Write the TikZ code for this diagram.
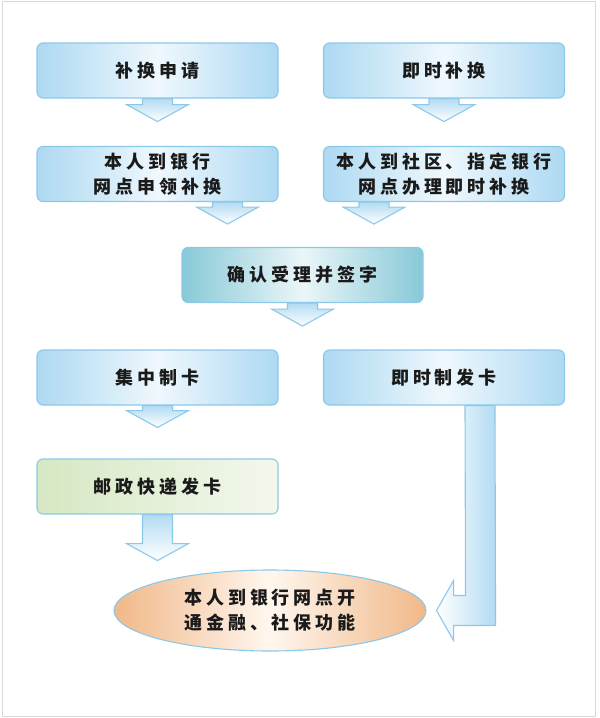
\documentclass[tikz,border=0pt]{standalone}
\usepackage{fontspec}
\newfontfamily\cjk[LetterSpace=22]{Noto Sans CJK SC}
\usetikzlibrary{calc,shapes.geometric}
\definecolor{edgeblue}{HTML}{8CC8EA}
\definecolor{boxblue}{HTML}{ADD9F2}
\definecolor{boxlight}{HTML}{EFF8FD}
\definecolor{boxteal}{HTML}{88C9D7}
\definecolor{tealight}{HTML}{EAF6F8}
\definecolor{boxgreen}{HTML}{D6E8C3}
\definecolor{greenlight}{HTML}{F3F8EE}
\definecolor{peach}{HTML}{F1B888}
\definecolor{peachlight}{HTML}{FFF7EF}
\definecolor{arrowblue}{HTML}{B3DBF3}
\definecolor{framegrey}{HTML}{D9D9D9}
\definecolor{textblack}{HTML}{1A1A1A}
\begin{document}
\begin{tikzpicture}[x=1pt,y=-1pt,
  font=\cjk\bfseries\fontsize{18}{25}\selectfont,
  box/.style={rectangle,rounded corners=6pt,draw=edgeblue,line width=1.1pt,
    minimum width=241pt,minimum height=55pt,inner sep=0pt,align=center,text=textblack},
  blue box/.style={box,left color=boxblue,right color=boxblue,middle color=boxlight},
  teal box/.style={box,left color=boxteal,right color=boxteal,middle color=tealight},
  green box/.style={box,left color=boxgreen,right color=greenlight},
  flow arrow/.style={draw=edgeblue,line width=1.1pt,top color=arrowblue,bottom color=white},
  side arrow/.style={draw=edgeblue,line width=1.1pt,left color=white,right color=arrowblue}]

  \useasboundingbox (0,0) rectangle (600,718);
  \draw[framegrey,line width=1pt] (2,1) rectangle (595,716);

  \node[blue box] (l1) at (157.5,70.5) {补换申请};
  \node[blue box] (r1) at (444,70.5) {即时补换};
  \node[blue box] (l2) at (157.5,174) {本人到银行\\网点申领补换};
  \node[blue box] (r2) at (444,174) {本人到社区、指定银行\\网点办理即时补换};
  \node[teal box] (c) at (302.5,275) {确认受理并签字};
  \node[blue box] (l3) at (157.5,377.5) {集中制卡};
  \node[blue box] (r3) at (444,377.5) {即时制发卡};
  \node[green box] (l4) at (157.5,486.5) {邮政快递发卡};
  \node[ellipse,draw=edgeblue,line width=1.1pt,minimum width=312pt,minimum height=81pt,
    inner sep=0pt,align=center,text=textblack,
    left color=peach,right color=peach,middle color=peachlight] (ell) at (270,610.5)
    {本人到银行网点开\\通金融、社保功能};

  \foreach \n/\s/\l in {l1/0/6,r1/0/6,l2/70/5,r2/-70/5,c/0/6,l3/0/5,l4/0/29}
    \draw[flow arrow] ($(\n.south)+(\s-15,0)$) -- ++(0,\l) -- ++(-16,0) -- ++(31,17)
      -- ++(31,-17) -- ++(-16,0) -- ++(0,-\l) -- cycle;

  \draw[side arrow] ($(r3.south)+(21,0)$) -- ++(30,0) -- ($(ell.east)+(69,15)$)
    -- ($(ell.east)+(27,15)$) -- ++(0,15) -- ($(ell.east)+(10,0)$) -- ++(17,-30)
    -- ++(0,15) -- ($(ell.east)+(39,-15)$) -- cycle;
\end{tikzpicture}
\end{document}
